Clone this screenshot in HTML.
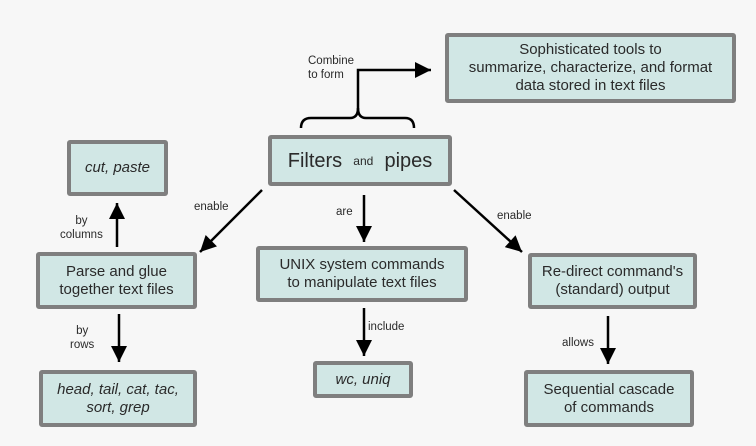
<!DOCTYPE html>
<html><head><style>
body{margin:0;background:#f7f7f7;}
.c{position:relative;width:756px;height:446px;background:#f7f7f7;font-family:"Liberation Sans",sans-serif;color:#2a2a2a;overflow:hidden}
.b{position:absolute;box-sizing:border-box;border:4px solid #7f7f7f;border-radius:3px;background:#d1e7e5;display:flex;align-items:center;justify-content:center;text-align:center;font-size:15px;line-height:18px}
.i{font-style:italic}
.l{position:absolute;font-size:11.5px;line-height:14px;text-align:center;color:#2a2a2a}
svg{position:absolute;left:0;top:0}
</style></head><body><div class="c">
<svg width="756" height="446">
<defs>
<marker id="h" viewBox="0 0 10 10" refX="10" refY="5" markerWidth="17" markerHeight="16" orient="auto" markerUnits="userSpaceOnUse"><path d="M0,0 L10,5 L0,10z" fill="#000"/></marker></defs>
<g stroke="#000" stroke-width="2.5" fill="none">
<path d="M358,110 V70 H431" marker-end="url(#h)"/>
<path d="M301,128 Q301,118 311,118 H350 Q358,118 358,108 Q358,118 366,118 H405 Q414,118 414,128"/>
<path d="M364,195 V242" marker-end="url(#h)"/>
<path d="M364,308 V356" marker-end="url(#h)"/>
<path d="M454,190 L522,252" marker-end="url(#h)"/>
<path d="M608,316 V364" marker-end="url(#h)"/>
<path d="M262,190 L200,252" marker-end="url(#h)"/>
<path d="M117,247 V203" marker-end="url(#h)"/>
<path d="M119,314 V362" marker-end="url(#h)"/>
</g></svg>
<div class="b" style="left:445px;top:33px;width:291px;height:70px">Sophisticated tools to<br>summarize, characterize, and format<br>data stored in text files</div>
<div class="b" style="left:268px;top:135px;width:184px;height:51px;font-size:20px">Filters&nbsp;&nbsp;<span style="font-size:12px">and</span>&nbsp;&nbsp;pipes</div>
<div class="b i" style="left:67px;top:140px;width:101px;height:56px">cut, paste</div>
<div class="b" style="left:36px;top:252px;width:161px;height:57px">Parse and glue<br>together text files</div>
<div class="b i" style="left:39px;top:370px;width:158px;height:57px">head, tail, cat, tac,<br>sort, grep</div>
<div class="b" style="left:256px;top:246px;width:212px;height:56px">UNIX system commands<br>to manipulate text files</div>
<div class="b i" style="left:313px;top:361px;width:100px;height:37px">wc, uniq</div>
<div class="b" style="left:528px;top:253px;width:169px;height:56px">Re-direct command's<br>(standard) output</div>
<div class="b" style="left:524px;top:370px;width:170px;height:57px">Sequential cascade<br>of commands</div>
<div class="l" style="left:308px;top:54px;text-align:left">Combine<br>to form</div>
<div class="l" style="left:194px;top:200px">enable</div>
<div class="l" style="left:336px;top:205px">are</div>
<div class="l" style="left:497px;top:209px">enable</div>
<div class="l" style="left:368px;top:320px">include</div>
<div class="l" style="left:562px;top:336px">allows</div>
<div class="l" style="left:60px;top:214px">by<br>columns</div>
<div class="l" style="left:70px;top:324px">by<br>rows</div>
</div></body></html>
